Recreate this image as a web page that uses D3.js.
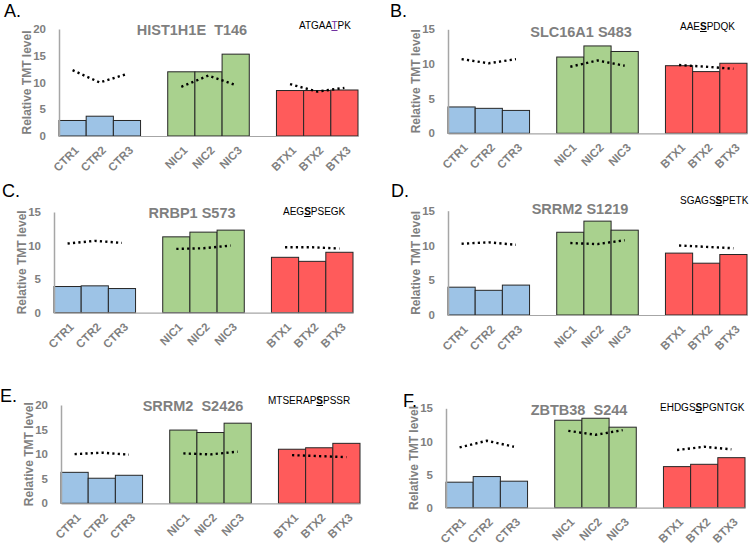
<!DOCTYPE html>
<html>
<head>
<meta charset="utf-8">
<script src="https://cdn.jsdelivr.net/npm/d3@7"></script>
<style>
  body { margin: 0; background: #fff; }
  svg { display: block; font-family: "Liberation Sans", Arial, sans-serif; }
</style>
</head>
<body>
<svg id="chart"></svg>
<script>
// data
let samples = ["CTR1", "CTR2", "CTR3", "NIC1", "NIC2", "NIC3", "BTX1", "BTX2", "BTX3"];
let slots = ["CTR1", "CTR2", "CTR3", "gap1", "NIC1", "NIC2", "NIC3", "gap2", "BTX1", "BTX2", "BTX3"];
let groups = ["CTR", "NIC", "BTX"];
let letters = ["A.", "B.", "C.", "D.", "E.", "F."];
let titles = ["HIST1H1E  T146", "SLC16A1 S483", "RRBP1 S573", "SRRM2 S1219", "SRRM2  S2426", "ZBTB38  S244"];
let seqBefore = ["ATGAA", "AAE", "AEG", "SGAGS", "MTSERAP", "EHDGS"];
let seqSite = ["T", "S", "S", "S", "S", "S"];
let seqAfter = ["PK", "PDQK", "PSEGK", "PETK", "PSSR", "PGNTGK"];
let yMax = [20, 15, 15, 15, 20, 15];
// bars: relative TMT level of the phosphosite
let siteValues = [
  [2.9, 3.7, 2.9, 12.0, 12.0, 15.3, 8.5, 8.5, 8.6],
  [3.8, 3.6, 3.3, 11.0, 12.6, 11.8, 9.75, 8.9, 10.1],
  [3.9, 4.0, 3.6, 11.3, 12.0, 12.3, 8.25, 7.65, 9.0],
  [4.0, 3.55, 4.3, 11.9, 13.5, 12.2, 8.9, 7.45, 8.7],
  [6.3, 5.1, 5.7, 14.9, 14.4, 16.3, 11.0, 11.3, 12.2],
  [3.85, 4.7, 4.0, 13.2, 13.5, 12.15, 6.2, 6.55, 7.55]
];
// dotted lines: protein level
let proteinValues = [
  [12.3, 10.0, 11.6, 9.2, 11.3, 9.5, 9.7, 8.3, 9.0],
  [10.7, 10.1, 10.7, 9.6, 10.5, 9.75, 9.85, 9.6, 9.3],
  [10.3, 10.7, 10.4, 9.5, 9.6, 10.0, 9.75, 9.75, 9.55],
  [10.25, 10.45, 10.1, 10.35, 10.2, 10.75, 10.0, 9.8, 9.6],
  [10.0, 10.3, 9.9, 10.15, 9.95, 10.5, 9.8, 9.6, 9.4],
  [9.1, 10.1, 9.2, 11.6, 11.0, 11.7, 8.7, 9.2, 8.8]
];

// layout of each panel on the page
let layout = [
  {x0: 59, yBot: 136, yTop: 29, tx: 192, ty: 35, sx: 299, sy: 29, lx: 4, ly: 17},
  {x0: 448, yBot: 133.3, yTop: 29.3, tx: 581, ty: 37, sx: 680, sy: 30, lx: 390, ly: 17},
  {x0: 54, yBot: 312.7, yTop: 212, tx: 192, ty: 217.5, sx: 283, sy: 215, lx: 2, ly: 197},
  {x0: 448, yBot: 315, yTop: 210.7, tx: 580, ty: 214, sx: 680, sy: 204, lx: 391, ly: 197},
  {x0: 61, yBot: 503.3, yTop: 405, tx: 193, ty: 411, sx: 268, sy: 404, lx: 0, ly: 402},
  {x0: 446, yBot: 507.7, yTop: 408.3, tx: 579, ty: 415, sx: 660, sy: 411, lx: 403, ly: 407}
];
let plotW = 299;
let colors = {CTR: "#9dc3e6", NIC: "#a9d18e", BTX: "#ff5b5b"};
let gray = "#7f7f7f";

let w = 750;
let h = 545;
let svg = d3.select("#chart").attr("width", w).attr("height", h);

let drawPanel = (i) => {
  let L = layout[i];
  let g = svg.append("g");
  let x = d3.scaleBand().domain(slots).range([L.x0, L.x0 + plotW]).padding(0);
  let y = d3.scaleLinear().domain([0, yMax[i]]).range([L.yBot, L.yTop]);

  // bars
  g.selectAll("rect.bar")
    .data(samples)
    .enter()
    .append("rect")
    .attr("class", "bar")
    .attr("x", d => x(d))
    .attr("width", x.bandwidth())
    .attr("y", (d, j) => y(siteValues[i][j]))
    .attr("height", (d, j) => y(0) - y(siteValues[i][j]))
    .attr("fill", d => colors[d.slice(0, 3)])
    .attr("stroke", "#262626")
    .attr("stroke-width", 1);

  // y axis
  let yAxis = g.append("g")
    .attr("transform", "translate(" + L.x0 + ",0)")
    .call(d3.axisLeft(y).tickValues(d3.range(0, yMax[i] + 1, 5)).tickSize(0).tickPadding(13));
  yAxis.select(".domain").attr("stroke", "#a6a6a6").attr("stroke-width", 1.5);
  yAxis.selectAll("text")
    .attr("fill", gray)
    .style("font-size", "11.5px")
    .style("font-weight", "bold");

  // x axis
  let xAxis = g.append("g")
    .attr("transform", "translate(0," + L.yBot + ")")
    .call(d3.axisBottom(x).tickValues(samples).tickSize(0));
  xAxis.select(".domain").attr("stroke", "#a6a6a6").attr("stroke-width", 1.2);
  xAxis.selectAll("text")
    .attr("fill", gray)
    .attr("text-anchor", "end")
    .attr("dy", null)
    .attr("y", null)
    .attr("transform", "translate(7,15) rotate(-45)")
    .style("font-size", "11.5px")
    .style("font-weight", "bold");

  // dotted protein lines, one per group
  let line = d3.line()
    .x(d => x(d.s) + x.bandwidth() / 2)
    .y(d => y(d.v));
  groups.forEach((grp) => {
    let pts = samples
      .map((s, j) => ({s: s, v: proteinValues[i][j]}))
      .filter(d => d.s.startsWith(grp));
    g.append("path")
      .attr("d", line(pts))
      .attr("fill", "none")
      .attr("stroke", "#000")
      .attr("stroke-width", 2.4)
      .attr("stroke-dasharray", "2.2,3.2");
  });

  // y axis label
  g.append("text")
    .attr("transform", "translate(" + (L.x0 - 28) + "," + ((L.yBot + L.yTop) / 2) + ") rotate(-90)")
    .attr("text-anchor", "middle")
    .attr("fill", gray)
    .style("font-size", "12px")
    .style("font-weight", "bold")
    .text("Relative TMT level");

  // title
  g.append("text")
    .attr("x", L.tx)
    .attr("y", L.ty)
    .attr("text-anchor", "middle")
    .attr("fill", gray)
    .style("font-size", "14.5px")
    .style("font-weight", "bold")
    .style("white-space", "pre")
    .text(titles[i]);

  // peptide sequence with the site underlined
  let seq = g.append("text")
    .attr("x", L.sx)
    .attr("y", L.sy)
    .attr("fill", "#000")
    .style("font-size", "10px");
  seq.append("tspan").text(seqBefore[i]);
  seq.append("tspan")
    .text(seqSite[i])
    .attr("fill", i === 0 ? "#7030a0" : "#000")
    .style("font-weight", i === 0 ? "normal" : "bold")
    .style("text-decoration", "underline");
  seq.append("tspan").text(seqAfter[i]);

  // panel letter
  g.append("text")
    .attr("x", L.lx)
    .attr("y", L.ly)
    .attr("fill", "#000")
    .style("font-size", "18px")
    .text(letters[i]);
};

d3.range(6).forEach(drawPanel);
</script>
</body>
</html>
